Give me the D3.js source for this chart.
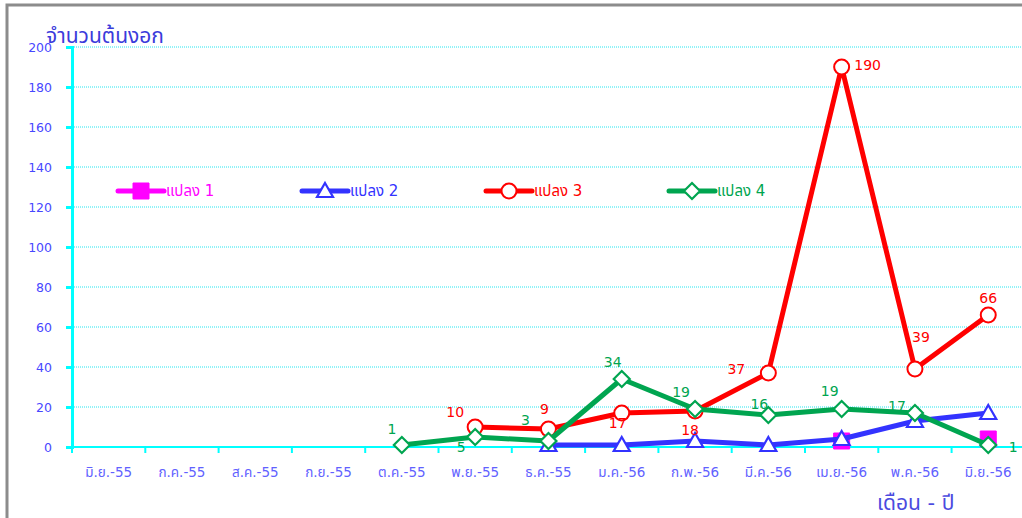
<!DOCTYPE html>
<html>
<head>
<meta charset="utf-8">
<script src="https://cdn.jsdelivr.net/npm/d3@7"></script>
<style>
  html, body { margin: 0; padding: 0; background: #fff; }
  svg { display: block; font-family: Tahoma, "DejaVu Sans", "Noto Sans Thai", sans-serif; }
</style>
</head>
<body>
<svg id="chart" width="1022" height="518"></svg>
<script>
// Months (Thai abbreviations, Buddhist-era year)
const months = ["มิ.ย.-55", "ก.ค.-55", "ส.ค.-55", "ก.ย.-55", "ต.ค.-55", "พ.ย.-55",
                "ธ.ค.-55", "ม.ค.-56", "ก.พ.-56", "มี.ค.-56", "เม.ย.-56", "พ.ค.-56", "มิ.ย.-56"];

// Seedling counts per plot (null = no count that month)
const plot1 = [null, null, null, null, null, null, null, null, null, null, 3, null, 4];
const plot2 = [null, null, null, null, null, null, 1, 1, 3, 1, 4, 13, 17];
const plot3 = [null, null, null, null, null, 10, 9, 17, 18, 37, 190, 39, 66];
const plot4 = [null, null, null, null, 1, 5, 3, 34, 19, 16, 19, 17, 1];

const seriesNames = ["แปลง 1", "แปลง 2", "แปลง 3", "แปลง 4"];
const yTicks = [0, 20, 40, 60, 80, 100, 120, 140, 160, 180, 200];

// Where each value label sits relative to its marker [dx, dy]
const plot3LabelAt = [null, null, null, null, null, [-20, -15], [-4, -20], [-4, 10], [-5, 19],
                      [-32, -4], [26, -2], [6, -32], [0, -17]];
const plot4LabelAt = [null, null, null, null, [-10, -16], [-14, 10], [-23, -21], [-9, -17],
                      [-14, -17], [-9, -11], [-12, -18], [-18, -7], [25, 2]];

const svg = d3.select("#chart");

const plotLeft = 72, plotTop = 47, plotBottom = 447, band = 73.3;
const x = d3.scaleBand().domain(months).range([plotLeft, plotLeft + band * months.length]).padding(0);
const cx = m => x(m) + x.bandwidth() / 2;
const y = d3.scaleLinear().domain([0, 200]).range([plotBottom, plotTop]);

const numFont = "'DejaVu Sans', Verdana, sans-serif";

// Outer frame (top and left edges)
svg.append("path")
  .attr("d", "M7,518 V5 H1022")
  .attr("fill", "none").attr("stroke", "#8c8c8c").attr("stroke-width", 3);

// Horizontal dotted gridlines
svg.append("g").selectAll("line").data(yTicks.filter(t => t > 0)).join("line")
  .attr("x1", plotLeft).attr("x2", 1022)
  .attr("y1", d => y(d)).attr("y2", d => y(d))
  .attr("stroke", "#22e6f0").attr("stroke-width", 1).attr("stroke-dasharray", "1,1");

// Y axis
const yAxis = svg.append("g").attr("transform", `translate(${plotLeft},0)`)
  .call(d3.axisLeft(y).tickValues(yTicks).tickSize(6).tickPadding(14));
yAxis.select(".domain").attr("stroke", "#00ffff").attr("stroke-width", 3);
yAxis.selectAll(".tick line").attr("stroke", "#00ffff").attr("stroke-width", 3);
yAxis.selectAll(".tick text").attr("fill", "#4747ff").attr("font-size", 12.5)
  .attr("font-family", numFont);

// X axis with ticks on month boundaries
const xAxisG = svg.append("g").attr("transform", `translate(0,${plotBottom})`);
xAxisG.append("line").attr("x1", plotLeft).attr("x2", 1022).attr("y1", 0).attr("y2", 0)
  .attr("stroke", "#00ffff").attr("stroke-width", 2);
xAxisG.selectAll("line.tk").data(months).join("line").attr("class", "tk")
  .attr("x1", d => x(d)).attr("x2", d => x(d)).attr("y1", 0).attr("y2", 6)
  .attr("stroke", "#00ffff").attr("stroke-width", 2);
xAxisG.selectAll("text").data(months).join("text")
  .attr("x", d => cx(d)).attr("y", 30)
  .attr("text-anchor", "middle").attr("fill", "#6161ff").attr("font-size", 13.5)
  .text(d => d);

// Series drawing
const styles = [
  { color: "#ff00ff", marker: "square" },
  { color: "#3333ff", marker: "triangle" },
  { color: "#ff0000", marker: "circle" },
  { color: "#00a550", marker: "diamond" }
];

function markerPath(type) {
  switch (type) {
    case "square": return "M-8,-8H8V8H-8Z";
    case "triangle": return "M0,-8L8,6H-8Z";
    case "diamond": return "M0,-8L8,0L0,8L-8,0Z";
    default: return null;
  }
}

function drawMarker(g, type, color, px, py) {
  if (type === "circle") {
    g.append("circle").attr("cx", px).attr("cy", py).attr("r", 7.5)
      .attr("fill", "#fff").attr("stroke", color).attr("stroke-width", 2);
  } else if (type === "square") {
    g.append("path").attr("d", markerPath(type)).attr("transform", `translate(${px},${py})`)
      .attr("fill", color).attr("stroke", color).attr("stroke-width", 1);
  } else {
    g.append("path").attr("d", markerPath(type)).attr("transform", `translate(${px},${py})`)
      .attr("fill", "#fff").attr("stroke", color).attr("stroke-width", 2.2);
  }
}

const allSeries = [plot1, plot2, plot3, plot4];
const line = d3.line()
  .defined(d => d.v !== null)
  .x(d => cx(d.m)).y(d => y(d.v));

allSeries.forEach((vals, i) => {
  const st = styles[i];
  const pts = months.map((m, k) => ({ m, v: vals[k] }));
  const g = svg.append("g");
  g.append("path").datum(pts).attr("d", line)
    .attr("fill", "none").attr("stroke", st.color).attr("stroke-width", 5)
    .attr("stroke-linejoin", "round");
  pts.filter(p => p.v !== null).forEach(p => drawMarker(g, st.marker, st.color, cx(p.m), y(p.v)));
});

// Value labels for plots 3 and 4
function drawLabels(vals, placement, color) {
  const g = svg.append("g");
  months.forEach((m, k) => {
    if (vals[k] === null || !placement[k]) return;
    g.append("text")
      .attr("x", cx(m) + placement[k][0]).attr("y", y(vals[k]) + placement[k][1])
      .attr("dy", "0.35em").attr("text-anchor", "middle")
      .attr("fill", color).attr("font-size", 14).attr("font-family", numFont)
      .text(vals[k]);
  });
}
drawLabels(plot3, plot3LabelAt, styles[2].color);
drawLabels(plot4, plot4LabelAt, styles[3].color);

// Legend
const legendX = [118, 302, 486, 669];
const legendY = 191;
const legend = svg.append("g");
seriesNames.forEach((name, i) => {
  const st = styles[i];
  const lx = legendX[i];
  legend.append("line").attr("x1", lx).attr("x2", lx + 46).attr("y1", legendY).attr("y2", legendY)
    .attr("stroke", st.color).attr("stroke-width", 5).attr("stroke-linecap", "round");
  drawMarker(legend, st.marker, st.color, lx + 23, legendY);
  legend.append("text").attr("x", lx + 48).attr("y", legendY).attr("dy", "0.35em")
    .attr("fill", st.color).attr("font-size", 15).text(name);
});

// Axis titles
svg.append("text").attr("x", 46).attr("y", 43)
  .attr("fill", "#3b3bdb").attr("font-size", 21).text("จำนวนต้นงอก");
svg.append("text").attr("x", 877).attr("y", 510)
  .attr("fill", "#4b4be0").attr("font-size", 21).text("เดือน - ปี");
</script>
</body>
</html>
